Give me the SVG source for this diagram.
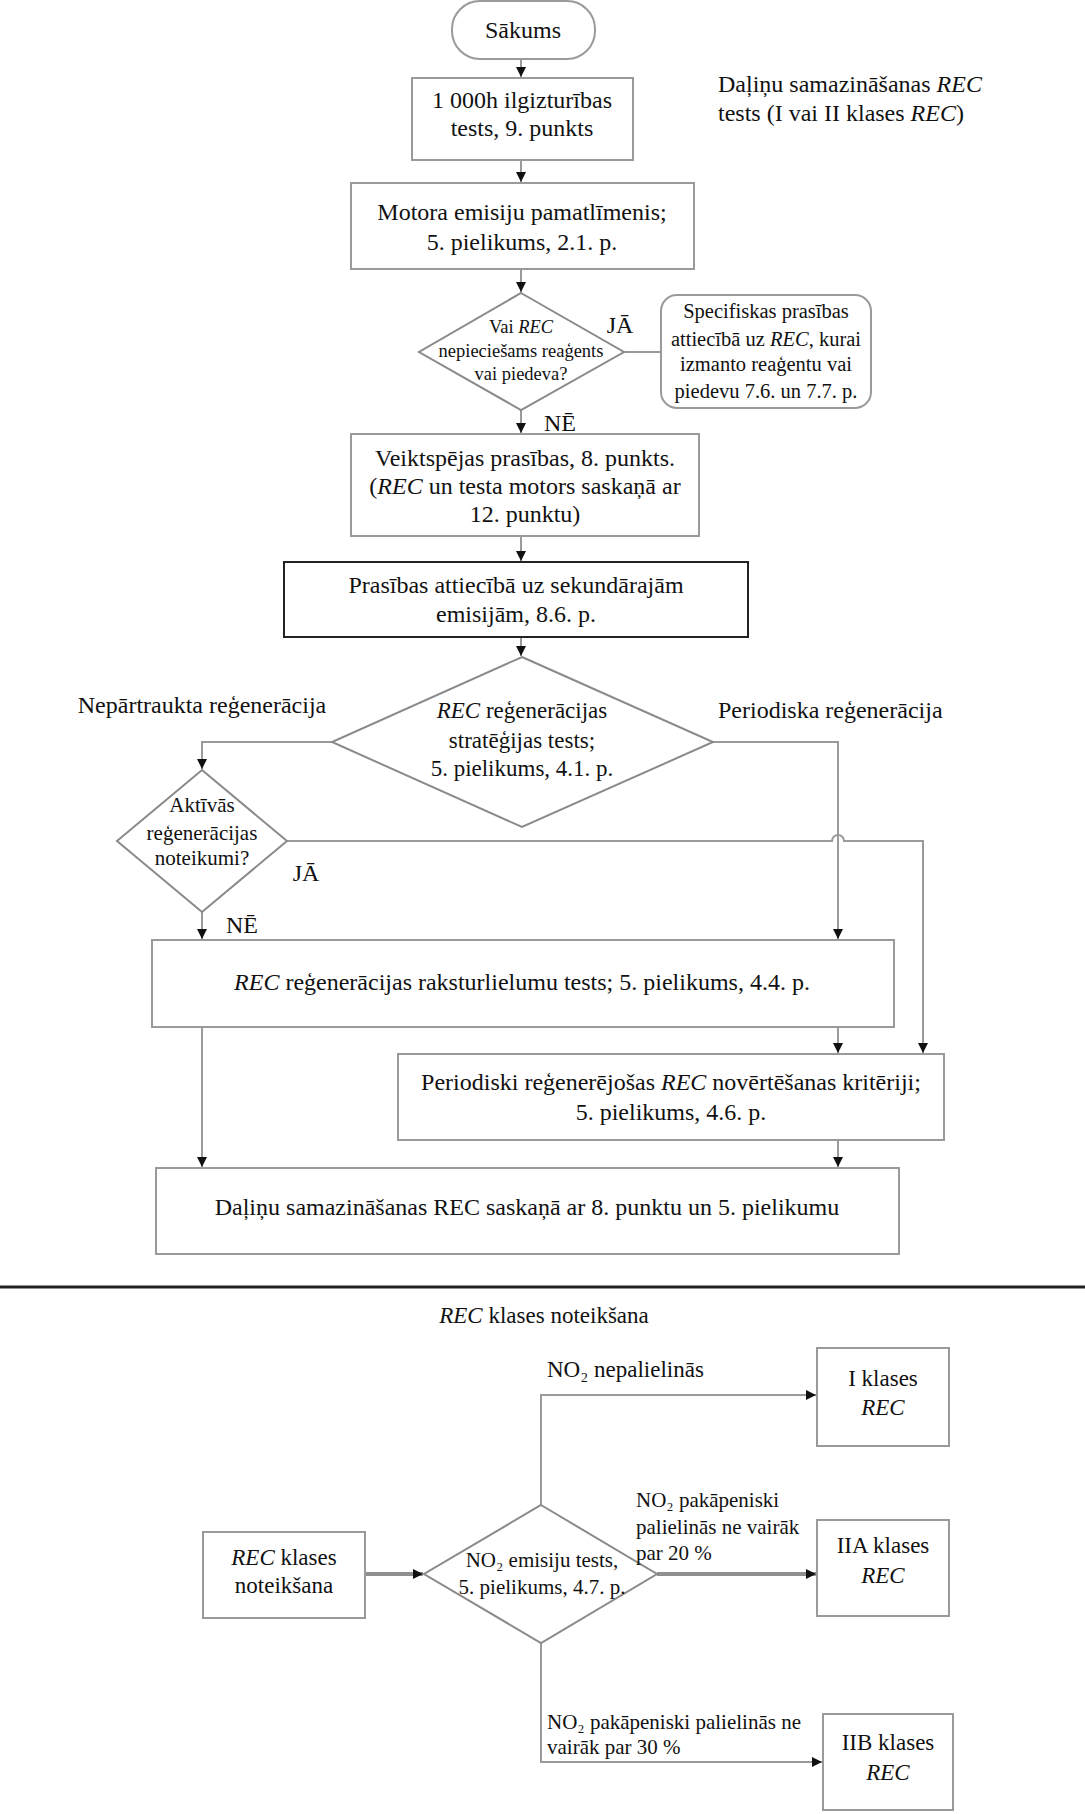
<svg xmlns="http://www.w3.org/2000/svg" width="1085" height="1814" viewBox="0 0 1085 1814">
<style>
text{font-family:"Liberation Serif","Times New Roman",serif;font-size:24px;fill:#111;text-anchor:middle}
.l{text-anchor:start}
.s18{font-size:18.5px}
.s20{font-size:20.5px}
.s21{font-size:21px}
.s23{font-size:23px}
.i{font-style:italic}
.box{fill:#fff;stroke:#9a9a9a;stroke-width:2}
.dk{fill:#fff;stroke:#222;stroke-width:2}
.dia{fill:#fff;stroke:#8a8a8a;stroke-width:2}
.c{fill:none;stroke:#9a9a9a;stroke-width:2}
.ct{fill:none;stroke:#8f8f8f;stroke-width:4}
</style>
<defs>
<marker id="ah" markerUnits="userSpaceOnUse" markerWidth="10" markerHeight="10" viewBox="0 0 10 10" refX="10" refY="5" orient="auto">
<path d="M0,0 L10,5 L0,10 z" fill="#111"/>
</marker>
</defs>

<g id="connectors">
<path class="c" d="M521,59 V77" marker-end="url(#ah)"/>
<path class="c" d="M521,160 V182" marker-end="url(#ah)"/>
<path class="c" d="M521,269 V292" marker-end="url(#ah)"/>
<path class="c" d="M624,352 H661"/>
<path class="c" d="M521,410 V433" marker-end="url(#ah)"/>
<path class="c" d="M521,536 V561" marker-end="url(#ah)"/>
<path class="c" d="M521,637 V656" marker-end="url(#ah)"/>
<path class="c" d="M332,742 H202 V769" marker-end="url(#ah)"/>
<path class="c" d="M713,742 H838 V939" marker-end="url(#ah)"/>
<path class="c" d="M287,841 H832 A6,6 0 0 1 844,841 H923 V1053" marker-end="url(#ah)"/>
<path class="c" d="M202,912 V939" marker-end="url(#ah)"/>
<path class="c" d="M202,1027 V1167" marker-end="url(#ah)"/>
<path class="c" d="M838,1027 V1053" marker-end="url(#ah)"/>
<path class="c" d="M838,1140 V1167" marker-end="url(#ah)"/>
<path class="ct" d="M365,1574 H423" marker-end="url(#ah)"/>
<path class="ct" d="M657,1574 H816" marker-end="url(#ah)"/>
<path class="c" d="M541,1505 V1395 H816" marker-end="url(#ah)"/>
<path class="c" d="M541,1643 V1762 H822" marker-end="url(#ah)"/>
</g>

<g id="start">
<rect class="box" x="452" y="1" width="143" height="58" rx="28" ry="28"/>
<text x="523" y="38">Sākums</text>
</g>

<g id="durability">
<rect class="box" x="412" y="78" width="221" height="82"/>
<text x="522" y="108">1 000h ilgizturības</text>
<text x="522" y="136">tests, 9. punkts</text>
</g>

<g id="annotation">
<text class="l" x="718" y="92">Daļiņu samazināšanas <tspan class="i">REC</tspan></text>
<text class="l" x="718" y="121">tests (I vai II klases <tspan class="i">REC</tspan>)</text>
</g>

<g id="baseline">
<rect class="box" x="351" y="183" width="343" height="86"/>
<text x="522" y="220">Motora emisiju pamatlīmenis;</text>
<text x="522" y="250">5. pielikums, 2.1. p.</text>
</g>

<g id="reagent-decision">
<polygon class="dia" points="521,293 624,352 521,410 419,352"/>
<text class="s18" x="521" y="333">Vai <tspan class="i">REC</tspan></text>
<text class="s18" x="521" y="357">nepieciešams reaģents</text>
<text class="s18" x="521" y="380">vai piedeva?</text>
<text x="620" y="333">JĀ</text>
<text x="560" y="431">NĒ</text>
</g>

<g id="reagent-req">
<rect class="box" x="661" y="295" width="210" height="113" rx="16" ry="16"/>
<text class="s20" x="766" y="318">Specifiskas prasības</text>
<text class="s20" x="766" y="346">attiecībā uz <tspan class="i">REC</tspan>, kurai</text>
<text class="s20" x="766" y="371">izmanto reaģentu vai</text>
<text class="s20" x="766" y="398">piedevu 7.6. un 7.7. p.</text>
</g>

<g id="performance">
<rect class="box" x="351" y="434" width="348" height="102"/>
<text x="525" y="466">Veiktspējas prasības, 8. punkts.</text>
<text x="525" y="494">(<tspan class="i">REC</tspan> un testa motors saskaņā ar</text>
<text x="525" y="522">12. punktu)</text>
</g>

<g id="secondary">
<rect class="dk" x="284" y="562" width="464" height="75"/>
<text x="516" y="593">Prasības attiecībā uz sekundārajām</text>
<text x="516" y="622">emisijām, 8.6. p.</text>
</g>

<g id="strategy-decision">
<polygon class="dia" points="522,657 713,742 522,827 332,742"/>
<text class="s23" x="522" y="718"><tspan class="i">REC</tspan> reģenerācijas</text>
<text class="s23" x="522" y="748">stratēģijas tests;</text>
<text class="s23" x="522" y="776">5. pielikums, 4.1. p.</text>
<text x="202" y="713">Nepārtraukta reģenerācija</text>
<text class="l" x="718" y="718">Periodiska reģenerācija</text>
</g>

<g id="active-decision">
<polygon class="dia" points="202,770 287,841 202,912 117,841"/>
<text class="s21" x="202" y="812">Aktīvās</text>
<text class="s21" x="202" y="840">reģenerācijas</text>
<text class="s21" x="202" y="865">noteikumi?</text>
<text x="306" y="881">JĀ</text>
<text x="242" y="933">NĒ</text>
</g>

<g id="characteristics">
<rect class="box" x="152" y="940" width="742" height="87"/>
<text x="522" y="990"><tspan class="i">REC</tspan> reģenerācijas raksturlielumu tests; 5. pielikums, 4.4. p.</text>
</g>

<g id="periodic">
<rect class="box" x="398" y="1054" width="546" height="86"/>
<text x="671" y="1090">Periodiski reģenerējošas <tspan class="i">REC</tspan> novērtēšanas kritēriji;</text>
<text x="671" y="1120">5. pielikums, 4.6. p.</text>
</g>

<g id="final">
<rect class="box" x="156" y="1168" width="743" height="86"/>
<text x="527" y="1215">Daļiņu samazināšanas REC saskaņā ar 8. punktu un 5. pielikumu</text>
</g>

<line x1="0" y1="1287" x2="1085" y2="1287" stroke="#222" stroke-width="3"/>

<text class="s23" x="544" y="1323"><tspan class="i">REC</tspan> klases noteikšana</text>

<g id="class-start">
<rect class="box" x="203" y="1532" width="162" height="86"/>
<text class="s23" x="284" y="1565"><tspan class="i">REC</tspan> klases</text>
<text class="s23" x="284" y="1593">noteikšana</text>
</g>

<g id="no2-decision">
<polygon class="dia" points="541,1505 657,1574 541,1643 424,1574"/>
<text class="s21" x="542" y="1567">NO₂ emisiju tests,</text>
<text class="s21" x="542" y="1594">5. pielikums, 4.7. p.</text>
<text class="l s23" x="547" y="1377">NO₂ nepalielinās</text>
<text class="l s21" x="636" y="1507">NO₂ pakāpeniski</text>
<text class="l s21" x="636" y="1534">palielinās ne vairāk</text>
<text class="l s21" x="636" y="1560">par 20 %</text>
<text class="l s21" x="547" y="1729">NO₂ pakāpeniski palielinās ne</text>
<text class="l s21" x="547" y="1754">vairāk par 30 %</text>
</g>

<g id="class-I">
<rect class="box" x="817" y="1348" width="132" height="98"/>
<text class="s23" x="883" y="1386">I klases</text>
<text class="s23 i" x="883" y="1415">REC</text>
</g>

<g id="class-IIA">
<rect class="box" x="817" y="1520" width="132" height="96"/>
<text class="s23" x="883" y="1553">IIA klases</text>
<text class="s23 i" x="883" y="1583">REC</text>
</g>

<g id="class-IIB">
<rect class="box" x="823" y="1714" width="130" height="96"/>
<text class="s23" x="888" y="1750">IIB klases</text>
<text class="s23 i" x="888" y="1780">REC</text>
</g>
</svg>
